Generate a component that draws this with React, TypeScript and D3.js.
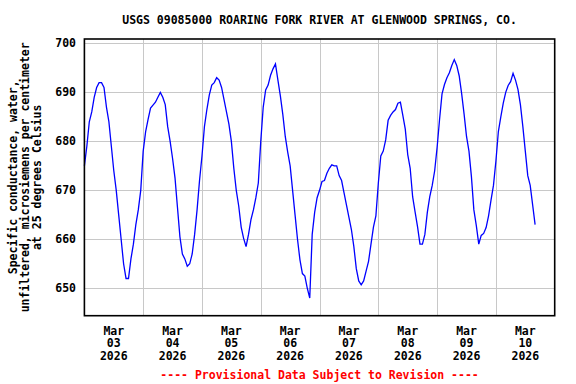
import React, { useRef, useEffect } from 'react';
import * as d3 from 'd3';

// hourly readings, starting at midnight of each day (uS/cm at 25 C)
const mar03 = [675, 679, 684, 686, 689, 691, 692, 692, 691, 687, 684, 679, 674, 670, 665, 660, 655, 652, 652, 656, 659, 663, 666, 670];
const mar04 = [678, 682, 684.5, 686.8, 687.4, 688, 689, 690, 689, 687.5, 683, 680, 676.5, 672.5, 666.5, 660.5, 657, 656, 654.5, 655, 657, 661, 666, 672];
const mar05 = [677, 683, 686.5, 689.5, 691.5, 692, 693, 692.5, 691, 688.5, 686, 683.5, 680, 674.5, 670, 666.8, 662.5, 660.2, 658.5, 661, 664, 666, 668.5, 671.5];
const mar06 = [680, 687, 690.5, 691.5, 693.5, 694.8, 695.8, 692.5, 689.3, 685.5, 681, 677.8, 675, 670, 665, 660, 655.8, 653, 652.5, 650, 648, 661, 665.5, 668.5];
const mar07 = [670, 671.8, 672, 673.5, 674.5, 675.2, 675, 675, 673, 672, 669.5, 667, 664.5, 662, 658.5, 654, 651.5, 650.7, 651.5, 653.5, 655.5, 659, 662.5, 664.8];
const mar08 = [671.5, 677, 678, 680.3, 684.3, 685.3, 686, 686.5, 687.8, 688, 685.3, 682.5, 677.3, 674.5, 668.7, 665.6, 662.6, 659, 659, 661, 665.5, 668.7, 671, 674];
const mar09 = [678.8, 684.5, 689.7, 691.6, 693, 694, 695.5, 696.7, 695.5, 693.4, 689.8, 685.6, 681, 678, 672.8, 666, 662.8, 659, 660.8, 661.2, 662.4, 664.8, 668, 671];
const mar10 = [676, 682, 685, 687.8, 690, 691.4, 692.2, 693.9, 692.5, 690.6, 687.5, 683, 678, 673, 671, 667, 663];

const days = ['2026-03-03', '2026-03-04', '2026-03-05', '2026-03-06', '2026-03-07', '2026-03-08', '2026-03-09', '2026-03-10'];
const dayValues = [mar03, mar04, mar05, mar06, mar07, mar08, mar09, mar10];
const yTicks = [650, 660, 670, 680, 690, 700];

const title = 'USGS 09085000 ROARING FORK RIVER AT GLENWOOD SPRINGS, CO.';
const yLabel = ['Specific conductance, water,', 'unfiltered, microsiemens per centimeter', 'at 25 degrees Celsius'];
const footer = '---- Provisional Data Subject to Revision ----';

const FONT = '"DejaVu Sans Mono", monospace';

function App() {
  const svgRef = useRef<SVGSVGElement>(null);

  useEffect(() => {
    const width = 576;
    const height = 384;
    const left = 84.4, right = 554.7, top = 39, bottom = 315.7;

    const svg = d3.select(svgRef.current);
    svg.selectAll('*').remove();

    const data: { t: Date; v: number }[] = [];
    days.forEach((d, i) => {
      const start = new Date(d + 'T00:00:00Z');
      dayValues[i].forEach((v, h) => data.push({ t: new Date(start.getTime() + h * 3600e3), v }));
    });

    const x = d3.scaleUtc()
      .domain([new Date('2026-03-03T00:00:00Z'), new Date('2026-03-11T00:00:00Z')])
      .range([left, right]);
    const y = d3.scaleLinear().domain([644.4, 700.9]).range([bottom, top]);

    // grid
    const dayTicks = x.ticks(d3.utcDay.every(1)!).filter(t => x(t) > left + 1 && x(t) < right - 1);
    svg.append('g').selectAll('line').data(dayTicks).join('line')
      .attr('x1', d => Math.round(x(d)) + 0.5).attr('x2', d => Math.round(x(d)) + 0.5)
      .attr('y1', top).attr('y2', bottom)
      .attr('stroke', '#c8c8c8').attr('stroke-width', 1);
    svg.append('g').selectAll('line').data(yTicks).join('line')
      .attr('x1', left).attr('x2', right)
      .attr('y1', d => Math.round(y(d)) + 0.5).attr('y2', d => Math.round(y(d)) + 0.5)
      .attr('stroke', '#c8c8c8').attr('stroke-width', 1);

    // data line
    const line = d3.line<{ t: Date; v: number }>()
      .x(d => x(d.t))
      .y(d => y(d.v));
    svg.append('path')
      .datum(data)
      .attr('d', line)
      .attr('fill', 'none')
      .attr('stroke', '#0000ff')
      .attr('stroke-width', 1.3);

    // frame
    svg.append('rect')
      .attr('x', left).attr('y', top)
      .attr('width', right - left).attr('height', bottom - top)
      .attr('fill', 'none').attr('stroke', '#000').attr('stroke-width', 1.6);

    const txt = (sel: any) => sel
      .style('font-family', FONT)
      .style('font-weight', 'bold')
      .style('font-size', '11.5px');

    // y tick labels
    svg.append('g').selectAll('text').data(yTicks).join('text')
      .attr('x', 76).attr('y', d => y(d) + 4)
      .attr('text-anchor', 'end')
      .call(txt)
      .text(d => d);

    // x labels at noon
    const fmtMon = d3.utcFormat('%b');
    const fmtDay = d3.utcFormat('%d');
    const fmtYear = d3.utcFormat('%Y');
    const noons = days.map(d => new Date(d + 'T12:00:00Z'));
    const xl = svg.append('g').selectAll('text').data(noons).join('text')
      .attr('text-anchor', 'middle')
      .call(txt);
    xl.append('tspan').attr('x', d => x(d)).attr('y', 334.5).text(d => fmtMon(d));
    xl.append('tspan').attr('x', d => x(d)).attr('y', 347).text(d => fmtDay(d));
    xl.append('tspan').attr('x', d => x(d)).attr('y', 360).text(d => fmtYear(d));

    // title
    svg.append('text')
      .attr('x', (left + right) / 2).attr('y', 23.5)
      .attr('text-anchor', 'middle')
      .call(txt)
      .text(title);

    // y axis label
    const cy = (top + bottom) / 2;
    yLabel.forEach((s, i) => {
      const bx = 17 + i * 12;
      svg.append('text')
        .attr('transform', `translate(${bx},${cy}) rotate(-90)`)
        .attr('text-anchor', 'middle')
        .call(txt)
        .text(s);
    });

    // footer
    svg.append('text')
      .attr('x', (left + right) / 2).attr('y', 379)
      .attr('text-anchor', 'middle')
      .attr('fill', '#ff0000')
      .call(txt)
      .text(footer);

    svg.attr('width', width).attr('height', height);
  }, []);

  return (
    <svg
      ref={svgRef}
      width={576}
      height={384}
      style={{ position: 'absolute', left: 0, top: 0, background: '#fff' }}
    />
  );
}

export default App;
